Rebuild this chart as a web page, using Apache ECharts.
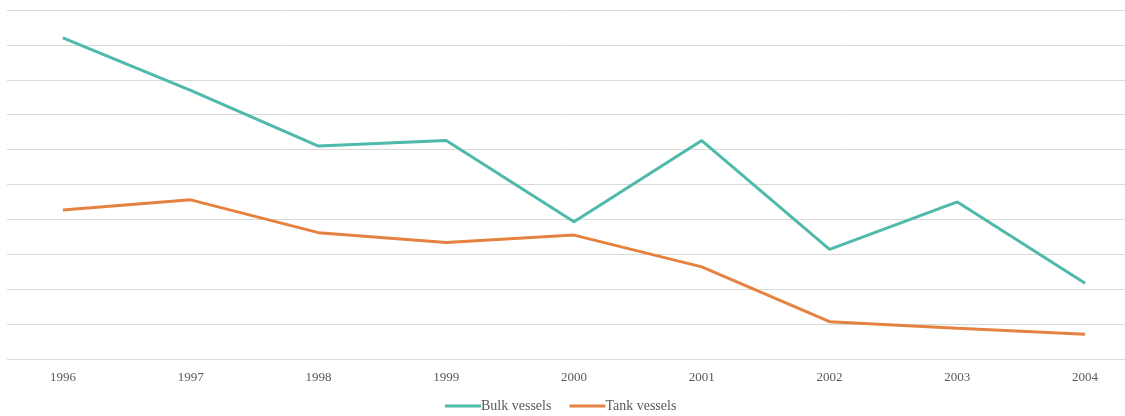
<!DOCTYPE html>
<html>
<head>
<meta charset="utf-8">
<title>Bulk vs Tank vessels</title>
<script src="https://cdn.jsdelivr.net/npm/echarts@6/dist/echarts.min.js"></script>
<style>
  html, body { margin: 0; padding: 0; background: #fff; }
  #chart { width: 1125px; height: 416px; }
</style>
</head>
<body>
<div id="chart"></div>
<script>
// 数据
const years = ['1996', '1997', '1998', '1999', '2000', '2001', '2002', '2003', '2004'];
const bulkVessels = [9.2, 7.7, 6.1, 6.26, 3.93, 6.26, 3.14, 4.5, 2.17];
const tankVessels = [4.27, 4.56, 3.62, 3.34, 3.55, 2.64, 1.07, 0.88, 0.71];

const chart = echarts.init(document.getElementById('chart'));

const font = '"Liberation Serif", "DejaVu Serif", serif';

const option = {
    animation: false,
    backgroundColor: '#fff',
    // 网格比画布宽，两端裁掉
    grid: { left: -1, width: 1150, top: 10, bottom: 57, containLabel: false, outerBoundsMode: 'none' },
    xAxis: {
        type: 'category',
        data: years,
        boundaryGap: true,
        axisLine: { lineStyle: { color: '#d9d9d9', width: 1 } },
        axisTick: { show: false },
        axisLabel: { color: '#595959', fontFamily: font, fontSize: 13, margin: 12 }
    },
    yAxis: {
        type: 'value',
        min: 0,
        max: 10,
        interval: 1,
        axisLabel: { show: false },
        axisLine: { show: false },
        axisTick: { show: false },
        splitLine: { lineStyle: { color: '#d9d9d9', width: 1 } }
    },
    legend: {
        bottom: -2,
        left: 440,
        icon: 'rect',
        itemWidth: 36,
        itemHeight: 3,
        itemGap: 18,
        textStyle: { color: '#595959', fontFamily: font, fontSize: 14, padding: [0, 0, 0, -5] },
        data: ['Bulk vessels', 'Tank vessels']
    },
    graphic: [{
        type: 'rect',
        left: 0,
        top: 0,
        shape: { width: 7, height: 370 },
        style: { fill: '#fff' },
        z: 100
    }],
    series: [
        {
            name: 'Bulk vessels',
            type: 'line',
            data: bulkVessels,
            symbol: 'none',
            lineStyle: { color: '#4fb9aa', width: 3 },
            itemStyle: { color: '#4fb9aa' }
        },
        {
            name: 'Tank vessels',
            type: 'line',
            data: tankVessels,
            symbol: 'none',
            lineStyle: { color: '#e5823f', width: 3 },
            itemStyle: { color: '#e5823f' }
        }
    ]
};

chart.setOption(option);

window.addEventListener('resize', () => chart.resize());
</script>
</body>
</html>
